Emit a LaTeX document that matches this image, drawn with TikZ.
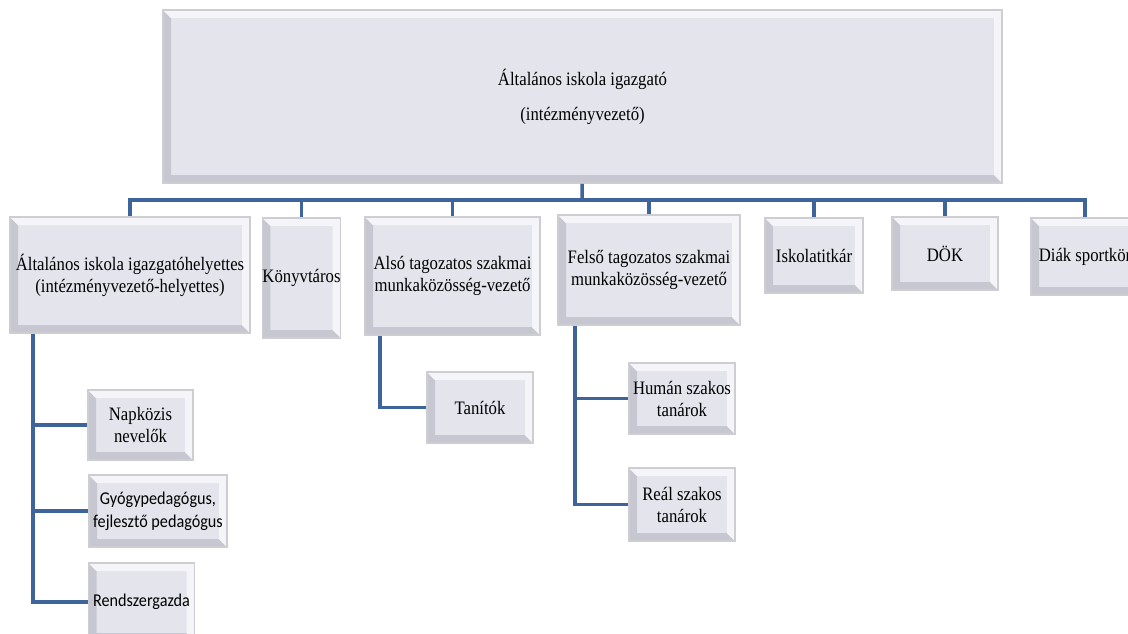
\documentclass[tikz,border=0pt]{standalone}
\usepackage{fontspec}
\setmainfont{Liberation Serif}[FakeStretch=0.88]
\newfontfamily\calibri{Carlito}[FakeStretch=0.9]
\usetikzlibrary{positioning}
\definecolor{boxfill}{RGB}{227,228,236}
\definecolor{boxline}{RGB}{206,206,210}
\definecolor{bevellow}{RGB}{198,199,208}
\definecolor{bevelhigh}{RGB}{244,244,249}
\definecolor{linkblue}{RGB}{62,101,155}
% bevelled edges of the boxes
\newcommand{\boxbevel}{%
  \fill[bevellow] (path picture bounding box.north west) -- ([shift={(8pt,-8pt)}]path picture bounding box.north west)
    -- ([shift={(8pt,8pt)}]path picture bounding box.south west) -- ([shift={(-8pt,8pt)}]path picture bounding box.south east)
    -- (path picture bounding box.south east) -- (path picture bounding box.south west) -- cycle;
  \fill[bevelhigh] (path picture bounding box.north west) -- (path picture bounding box.north east)
    -- (path picture bounding box.south east) -- ([shift={(-8pt,8pt)}]path picture bounding box.south east)
    -- ([shift={(-8pt,-8pt)}]path picture bounding box.north east) -- ([shift={(8pt,-8pt)}]path picture bounding box.north west) -- cycle;
}
\tikzset{
x=1pt, y=-1pt, % one unit is one pixel of the chart, y runs downwards
box/.style={draw=boxline, line width=1.5pt, fill=boxfill, inner sep=0pt, align=center,
  font=\fontsize{19}{22}\selectfont, path picture={\boxbevel}}, % grey bevelled box
sansbox/.style={box, font=\calibri\fontsize{18}{23}\selectfont}, % same box, sans text
link/.style={draw=linkblue, line width=3.5pt}, % blue connector
}

\begin{document}
\begin{tikzpicture}
    \useasboundingbox (0,0) rectangle (1128,633);
    \clip (0,0) rectangle (1128,633);

    % head
    \node[box, minimum width=839pt, minimum height=173pt, font=\fontsize{19}{35}\selectfont] (dir) at (582.5,96.5)
        {Általános iskola igazgató\\(intézményvezető)};

    % first level
    \node[box, minimum width=240pt, minimum height=116pt] (vez) at (130,275) {Általános iskola igazgatóhelyettes\\(intézményvezető-helyettes)};
    \node[box, minimum width=77pt, minimum height=120pt] (konyv) at (301.5,278) {Könyvtáros};
    \node[box, minimum width=175pt, minimum height=118pt] (also) at (452.5,276) {Alsó tagozatos szakmai\\munkaközösség-vezető};
    \node[box, minimum width=182pt, minimum height=110pt] (felso) at (649,270) {Felső tagozatos szakmai\\munkaközösség-vezető};
    \node[box, minimum width=98pt, minimum height=75pt] (titkar) at (814,255.5) {Iskolatitkár};
    \node[box, minimum width=106pt, minimum height=73pt] (dok) at (945,253.5) {DÖK};
    \node[box, minimum width=108pt, minimum height=77pt] (sport) at (1085,256.5) {Diák sportkör};

    % second level
    \node[box, minimum width=105pt, minimum height=70pt] (napkozi) at (140.5,425) {Napközis\\nevelők};
    \node[sansbox, minimum width=138pt, minimum height=72pt] (gyogy) at (158,511) {Gyógypedagógus,\\fejlesztő pedagógus};
    \node[sansbox, minimum width=106pt, minimum height=78pt] (rendszer) at (141.5,602) {Rendszergazda};
    \node[box, minimum width=106pt, minimum height=71pt] (tanito) at (480,407.5) {Tanítók};
    \node[box, minimum width=106pt, minimum height=71pt] (human) at (682,398.5) {Humán szakos\\tanárok};
    \node[box, minimum width=106pt, minimum height=73pt] (real) at (682,504.5) {Reál szakos\\tanárok};

    % connectors
    \coordinate (bus) at (582,200);
    \draw[link] (dir) -- (bus);
    \foreach \n in {vez,konyv,also,felso,titkar,dok,sport}
        \draw[link] (bus) -| (\n);
    \foreach \n in {napkozi,gyogy,rendszer}
        \draw[link] ([xshift=-97pt]vez.south) |- (\n);
    \draw[link] ([xshift=-72.5pt]also.south) |- (tanito);
    \draw[link] ([xshift=-74pt]felso.south) |- (human);
    \draw[link] ([xshift=-74pt]felso.south) |- (real);
\end{tikzpicture}
\end{document}
